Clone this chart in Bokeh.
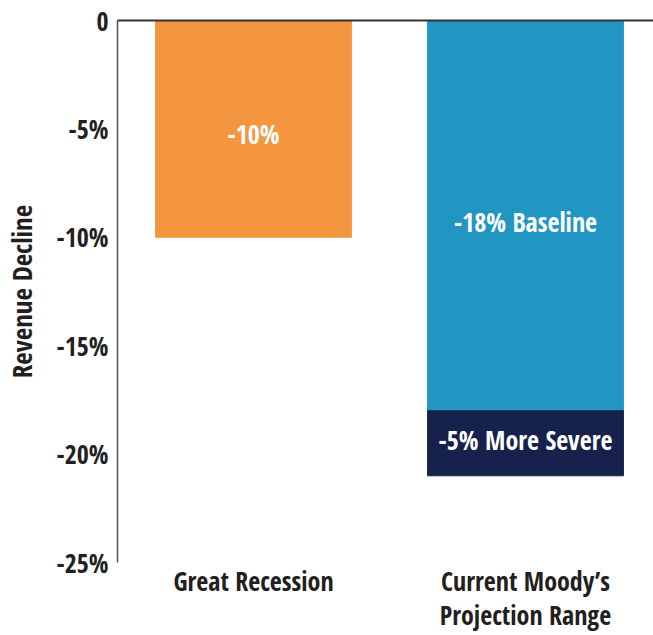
from bokeh.plotting import figure
from bokeh.models import Range1d, FixedTicker, LinearAxis, ColumnDataSource
from bokeh.core.properties import value
from bokeh.embed import file_html
from bokeh.resources import INLINE

# ---- data ----
categories = ["Great Recession", "Current Moody\u2019s\nProjection Range"]
x_pos = [1, 2]
great_recession = [-10]
baseline = [-18]
more_severe_extra = [-3]
bar_labels = ["-10%", "-18% Baseline", "-5% More Severe"]
y_ticks = [0, -5, -10, -15, -20, -25]
y_tick_labels = ["0", "-5%", "-10%", "-15%", "-20%", "-25%"]

FONT = "Open Sans Condensed"
ORANGE = "#F4963F"
BLUE = "#2196C2"
NAVY = "#16214C"
TXT = "#231F20"

p = figure(width=653, height=635, output_backend="svg", toolbar_location=None,
           x_range=Range1d(0.5, 2.4706), y_range=Range1d(-25, 0),
           min_border_left=117, min_border_right=0, min_border_top=20, min_border_bottom=70)
p.outline_line_color = None
p.grid.visible = False
p.background_fill_color = "white"
p.border_fill_color = "white"

w = 0.72
src1 = ColumnDataSource(dict(x=[x_pos[0]], top=[0], bottom=great_recession))
p.vbar(x="x", top="top", bottom="bottom", width=w, color=ORANGE, source=src1)
src2 = ColumnDataSource(dict(x=[x_pos[1]], top=[0], bottom=baseline))
p.vbar(x="x", top="top", bottom="bottom", width=w, color=BLUE, source=src2)
sev_bottom = [baseline[0] + more_severe_extra[0]]
src3 = ColumnDataSource(dict(x=[x_pos[1]], top=baseline, bottom=sev_bottom))
p.vbar(x="x", top="top", bottom="bottom", width=w, color=NAVY, source=src3)

lab_src = ColumnDataSource(dict(
    x=[x_pos[0], x_pos[1], x_pos[1]],
    y=[great_recession[0] / 2, baseline[0] / 2, (baseline[0] + sev_bottom[0]) / 2],
    t=bar_labels, dy=[5, 6, -3]))
p.text(x="x", y="y", text="t", source=lab_src, text_color="white", y_offset="dy",
       text_font=value(FONT), text_font_style="bold", text_font_size="26px",
       text_align="center", text_baseline="middle")

ya = p.yaxis[0]
ya.ticker = FixedTicker(ticks=y_ticks)
ya.major_label_overrides = {t: l for t, l in zip(y_ticks, y_tick_labels)}
ya.major_tick_line_color = None
ya.minor_tick_line_color = None
ya.major_tick_out = 0
ya.major_tick_in = 0
ya.axis_line_color = "#555555"
ya.axis_line_width = 1.5
ya.major_label_text_font = FONT
ya.major_label_text_font_style = "bold"
ya.major_label_text_font_size = "26px"
ya.major_label_text_color = TXT
ya.major_label_standoff = 9
ya.axis_label = "Revenue Decline"
ya.axis_label_text_font = FONT
ya.axis_label_text_font_style = "bold"
ya.axis_label_text_font_size = "27px"
ya.axis_label_text_color = TXT
ya.axis_label_standoff = 13

xa = p.xaxis[0]
xa.ticker = FixedTicker(ticks=x_pos)
xa.major_label_overrides = {x: c for x, c in zip(x_pos, categories)}
xa.axis_line_color = None
xa.major_tick_line_color = None
xa.minor_tick_line_color = None
xa.major_tick_out = 0
xa.major_tick_in = 0
xa.major_label_text_font = FONT
xa.major_label_text_font_style = "bold"
xa.major_label_text_font_size = "26px"
xa.major_label_text_color = TXT
xa.major_label_text_line_height = 0.95
xa.major_label_standoff = 0

top_axis = LinearAxis(ticker=FixedTicker(ticks=[]), major_label_text_font_size="0px",
                      major_tick_line_color=None, minor_tick_line_color=None,
                      major_tick_out=0, major_tick_in=0,
                      axis_line_color="#333333", axis_line_width=2)
p.add_layout(top_axis, "above")

open("out.html", "w").write(file_html(p, INLINE))
